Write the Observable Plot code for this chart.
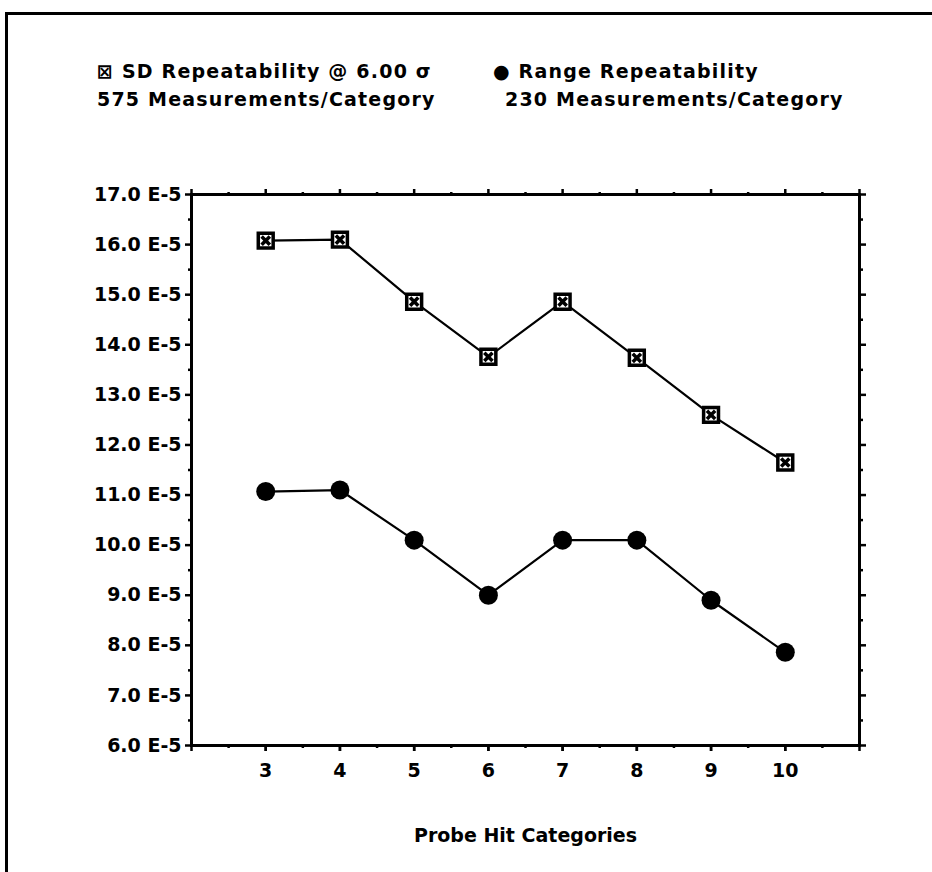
<!DOCTYPE html>
<html>
<head>
<meta charset="utf-8">
<script src="https://cdn.jsdelivr.net/npm/d3@7"></script>
<script src="https://cdn.jsdelivr.net/npm/@observablehq/plot@0.6"></script>
<style>
  body { margin: 0; background: #fff; }
  #wrap { position: relative; width: 932px; height: 872px; overflow: hidden; background: #fff;
          font-family: "DejaVu Sans", sans-serif; font-weight: bold; color: #000; }
  #border { position: absolute; left: 5px; top: 12px; width: 1200px; height: 1200px;
            border-left: 3px solid #000; border-top: 3px solid #000; }
  .leg { position: absolute; font-size: 19px; letter-spacing: 1.2px; white-space: pre; line-height: 1; }
  #chart { position: absolute; left: 0; top: 0; }
</style>
</head>
<body>
<div id="wrap">
  <div id="border"></div>
  <div class="leg" style="left:97px; top:62px">⊠ SD Repeatability @ 6.00 σ</div>
  <div class="leg" style="left:97px; top:90px">575 Measurements/Category</div>
  <div class="leg" style="left:493px; top:62px">● Range Repeatability</div>
  <div class="leg" style="left:505px; top:90px">230 Measurements/Category</div>
  <div id="chart"></div>
</div>
<script>
// Probe hit categories on the x axis
const categories = [3, 4, 5, 6, 7, 8, 9, 10];
// Repeatability values, in units of 1E-5
const sdRepeatability = [16.08, 16.1, 14.86, 13.76, 14.86, 13.74, 12.6, 11.65];
const rangeRepeatability = [11.07, 11.1, 10.1, 9.0, 10.1, 10.1, 8.9, 7.86];
// Axis ticks
const yTicks = [6, 7, 8, 9, 10, 11, 12, 13, 14, 15, 16, 17];
const yMinorTicks = [6.5, 7.5, 8.5, 9.5, 10.5, 11.5, 12.5, 13.5, 14.5, 15.5, 16.5];
const xTicks = [2, 3, 4, 5, 6, 7, 8, 9, 10, 11];
const xTickLabels = [3, 4, 5, 6, 7, 8, 9, 10];
const xMinorTicks = [2.5, 3.5, 4.5, 5.5, 6.5, 7.5, 8.5, 9.5, 10.5];

const sdRows = categories.map((c, i) => ({category: c, value: sdRepeatability[i]}));
const rangeRows = categories.map((c, i) => ({category: c, value: rangeRepeatability[i]}));

// Boxed-X marker for the SD series
const boxX = {
  draw(context, size) {
    const s = Math.sqrt(size) / 2;
    context.moveTo(-s, -s);
    context.lineTo(s, -s);
    context.lineTo(s, s);
    context.lineTo(-s, s);
    context.closePath();
    context.moveTo(-s * 0.55, -s * 0.55);
    context.lineTo(s * 0.55, s * 0.55);
    context.moveTo(s * 0.55, -s * 0.55);
    context.lineTo(-s * 0.55, s * 0.55);
  }
};

const blank = () => "";

const chart = Plot.plot({
  width: 932,
  height: 872,
  marginLeft: 191,
  marginRight: 73,
  marginTop: 194,
  marginBottom: 127,
  style: {fontSize: "19px", fontFamily: "'DejaVu Sans', sans-serif", fontWeight: "bold", color: "#000", background: "transparent"},
  x: {domain: [2, 11]},
  y: {domain: [6, 17]},
  marks: [
    Plot.frame({stroke: "#000", strokeWidth: 3}),
    // left axis with labels
    Plot.axisY({ticks: yTicks, tickSize: 6, tickPadding: 4, strokeWidth: 2.5,
                tickFormat: d => d.toFixed(1) + " E-5", label: null}),
    Plot.axisY({ticks: yMinorTicks, tickSize: 3, strokeWidth: 2.5, tickFormat: blank, label: null}),
    // right axis ticks
    Plot.axisY({anchor: "right", ticks: yTicks, tickSize: 6, strokeWidth: 2.5, tickFormat: blank, label: null}),
    Plot.axisY({anchor: "right", ticks: yMinorTicks, tickSize: 3, strokeWidth: 2.5, tickFormat: blank, label: null}),
    // bottom axis
    Plot.axisX({ticks: xTicks, tickSize: 6, strokeWidth: 2.5, tickFormat: blank, label: null}),
    Plot.axisX({ticks: xTickLabels, tickSize: 6, tickPadding: 12, strokeWidth: 2.5, tickFormat: d => String(d),
                label: "Probe Hit Categories", labelAnchor: "center", labelArrow: "none", labelOffset: 96}),
    Plot.axisX({ticks: xMinorTicks, tickSize: 3, strokeWidth: 2.5, tickFormat: blank, label: null}),
    // top axis ticks
    Plot.axisX({anchor: "top", ticks: xTicks, tickSize: 6, strokeWidth: 2.5, tickFormat: blank, label: null}),
    Plot.axisX({anchor: "top", ticks: xMinorTicks, tickSize: 3, strokeWidth: 2.5, tickFormat: blank, label: null}),
    // series
    Plot.line(sdRows, {x: "category", y: "value", stroke: "#000", strokeWidth: 2.2}),
    Plot.line(rangeRows, {x: "category", y: "value", stroke: "#000", strokeWidth: 2.2}),
    Plot.dot(sdRows, {x: "category", y: "value", symbol: boxX, r: 8.4, fill: "#fff", stroke: "#000", strokeWidth: 3.5}),
    Plot.dot(rangeRows, {x: "category", y: "value", r: 9.5, fill: "#000", stroke: "none"})
  ]
});

document.getElementById("chart").appendChild(chart);
</script>
</body>
</html>
